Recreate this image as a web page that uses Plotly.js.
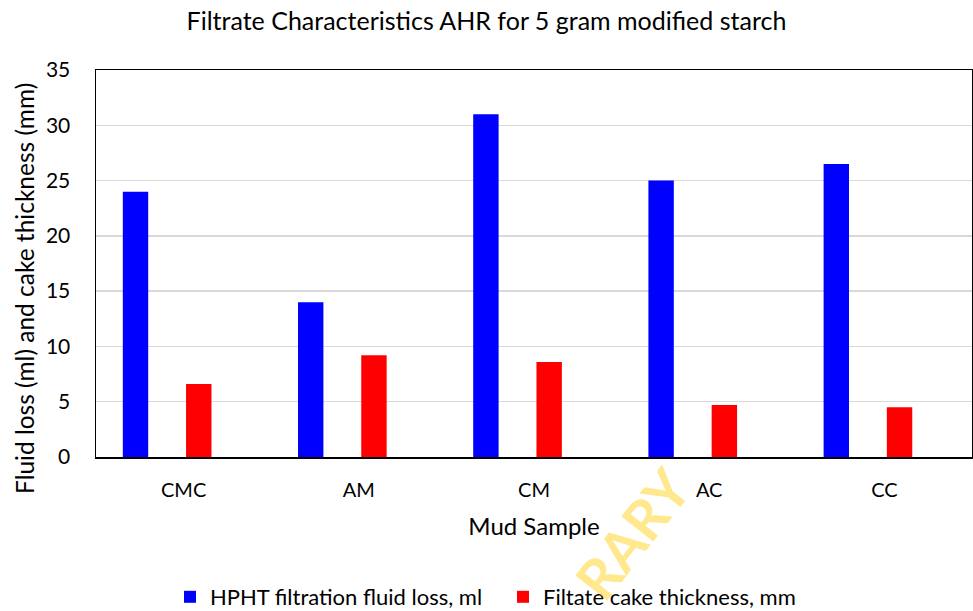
<!DOCTYPE html>
<html>
<head>
<meta charset="utf-8">
<script src="https://cdn.plot.ly/plotly-3.0.1.min.js"></script>
<style>html,body{margin:0;padding:0;background:#fff;}#chart{width:973px;height:611px;}</style>
</head>
<body>
<div id="chart"></div>
<script>
var categories = ["CMC", "AM", "CM", "AC", "CC"];
var fluidLoss = [24, 14, 31, 25, 26.5];
var cakeThickness = [6.6, 9.2, 8.6, 4.7, 4.5];
var seriesNames = ["HPHT filtration fluid loss, ml", "Filtate cake thickness, mm"];
var yTicks = [0, 5, 10, 15, 20, 25, 30, 35];
var yTitle = "Fluid loss (ml) and cake thickness (mm)";

var FONT = "Lato, 'Open Sans', sans-serif";
var W = 973, H = 611, L = 96, R = 1, T = 70, B = 154;
var PW = W - L - R, PH = H - T - B;
function px(x) { return (x - L) / PW; }
function py(y) { return (H - B - y) / PH; }

var traces = [
  {
    type: "bar", x: categories, y: fluidLoss, name: seriesNames[0],
    marker: {color: "#0000FF"}, width: 0.145, offset: -0.347
  },
  {
    type: "bar", x: categories, y: cakeThickness, name: seriesNames[1],
    marker: {color: "#FF0000"}, width: 0.145, offset: 0.014
  }
];

var layout = {
  width: W, height: H,
  margin: {l: L, r: R, t: T, b: B},
  paper_bgcolor: "#fff", plot_bgcolor: "#fff",
  font: {family: FONT, color: "#000", size: 20},
  title: {
    text: "Filtrate Characteristics AHR for 5 gram modified starch",
    font: {family: FONT, size: 25, color: "#000"},
    x: 0.5, xref: "container", xanchor: "center",
    y: 1 - 21/611, yref: "container", yanchor: "middle"
  },
  barmode: "group",
  xaxis: {
    type: "category", automargin: false,
    showline: true, linecolor: "#000", linewidth: 1.5, mirror: true,
    showgrid: false, ticks: "", ticklabelstandoff: 14,
    tickfont: {family: FONT, size: 20},
    title: {text: "Mud Sample", font: {family: FONT, size: 24}, standoff: 18}
  },
  yaxis: {
    range: [0, 35], tickvals: yTicks, automargin: false,
    showline: true, linecolor: "#000", linewidth: 1.5, mirror: true,
    showgrid: true, gridcolor: "#d9d9d9", gridwidth: 1.5,
    zeroline: false, ticks: "", ticklabelstandoff: 20,
    tickfont: {family: FONT, size: 21}
  },
  showlegend: true,
  legend: {
    orientation: "h", xref: "container", x: 503 / W, xanchor: "center",
    yref: "container", y: 1 - 597 / H, yanchor: "middle",
    font: {family: FONT, size: 22}, itemwidth: 30, tracegroupgap: 0,
    entrywidth: 288
  },
  annotations: [
    {
      text: yTitle, xref: "paper", yref: "paper",
      x: px(24), y: py(289), xanchor: "center", yanchor: "middle",
      showarrow: false, textangle: -90,
      font: {family: FONT, size: 24.5, color: "#000"}
    },
    {
      text: "RARY", xref: "paper", yref: "paper",
      x: px(632), y: py(533), xanchor: "center", yanchor: "middle",
      showarrow: false, textangle: -52,
      font: {family: FONT, size: 56, color: "rgba(255,210,30,0.5)", weight: "bold"}
    }
  ]
};

Plotly.newPlot("chart", traces, layout, {displayModeBar: false, staticPlot: true});
</script>
</body>
</html>
